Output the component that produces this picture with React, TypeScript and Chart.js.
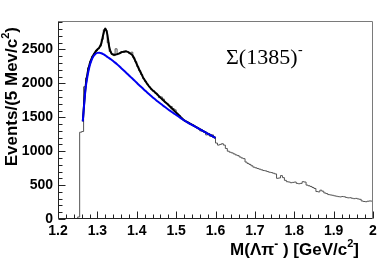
import React, { useEffect, useRef } from 'react';
import { Chart, registerables } from 'chart.js';

Chart.register(...registerables);

// Histogram: 5 MeV bins starting at 1.25 GeV
const histLow = 1.25;
const binWidth = 0.005;
const histCounts = [
  30, 1280, 1290, 1950, 2080, 2230, 2320, 2400, 2440, 2480,
  2510, 2550, 2650, 2790, 2780, 2600, 2470, 2430, 2410, 2510,
  2440, 2450, 2470, 2460, 2480, 2470, 2440, 2460, 2380, 2320,
  2250, 2190, 2130, 2070, 2030, 1990, 1950, 1910, 1890, 1860,
  1830, 1790, 1800, 1770, 1720, 1700, 1670, 1660, 1630, 1610,
  1560, 1530, 1500, 1470, 1450, 1435, 1420, 1400, 1385, 1365,
  1350, 1335, 1300, 1290, 1280, 1240, 1260, 1220, 1240, 1200,
  1120, 1090, 1100, 1110, 1090, 1040, 1000, 985, 975, 960,
  945, 935, 915, 900, 890, 840, 820, 805, 785, 765,
  755, 745, 735, 725, 715, 710, 700, 690, 685, 675,
  665, 600, 605, 640, 610, 570, 550, 545, 535, 540,
  545, 525, 520, 525, 550, 545, 500, 490, 480, 465,
  450, 405, 400, 425, 410, 385, 375, 360, 355, 350,
  342, 336, 330, 326, 332, 328, 318, 312, 314, 306,
  300, 304, 296, 290, 266, 258, 255, 262, 266, 264,
];

// Fit curves
const fitMass = [
  1.263, 1.265, 1.27, 1.275, 1.28, 1.285, 1.29, 1.295, 1.3, 1.305,
  1.31, 1.315, 1.32, 1.325, 1.33, 1.335, 1.34, 1.345, 1.35, 1.355,
  1.36, 1.365, 1.37, 1.375, 1.38, 1.385, 1.39, 1.395, 1.4, 1.405,
  1.41, 1.415, 1.42, 1.425, 1.43, 1.435, 1.44, 1.445, 1.45, 1.455,
  1.46, 1.465, 1.47, 1.475, 1.48, 1.485, 1.49, 1.495, 1.5, 1.505,
  1.51, 1.515, 1.52, 1.525, 1.53, 1.535, 1.54, 1.545, 1.55, 1.555,
  1.56, 1.565, 1.57, 1.575, 1.58, 1.585, 1.59, 1.595, 1.6,
];
const totalFit = [
  1440, 1600, 1950, 2150, 2280, 2360, 2420, 2465, 2500, 2530,
  2590, 2720, 2810, 2730, 2540, 2450, 2425, 2422, 2430, 2440,
  2455, 2465, 2472, 2468, 2455, 2435, 2405, 2350, 2285, 2220,
  2160, 2100, 2050, 2005, 1965, 1930, 1900, 1875, 1850, 1820,
  1790, 1762, 1735, 1710, 1685, 1655, 1625, 1597, 1570, 1540,
  1512, 1484, 1457, 1440, 1424, 1408, 1392, 1376, 1360, 1343,
  1326, 1310, 1293, 1277, 1260, 1244, 1228, 1212, 1196,
];
const bkgFit = [
  1440, 1590, 1920, 2110, 2250, 2340, 2400, 2435, 2450, 2452,
  2445, 2430, 2412, 2392, 2372, 2352, 2330, 2306, 2281, 2255,
  2228, 2201, 2174, 2147, 2120, 2092, 2065, 2037, 2009, 1981,
  1954, 1927, 1900, 1874, 1848, 1822, 1797, 1773, 1749, 1726,
  1703, 1680, 1658, 1636, 1615, 1595, 1575, 1555, 1535, 1515,
  1495, 1475, 1456, 1438, 1421, 1404, 1389, 1373, 1357, 1341,
  1325, 1309, 1292, 1276, 1260, 1244, 1228, 1212, 1196,
];

const xTickValues = [1.2, 1.3, 1.4, 1.5, 1.6, 1.7, 1.8, 1.9, 2.0];
const xTickLabels = ['1.2', '1.3', '1.4', '1.5', '1.6', '1.7', '1.8', '1.9', '2'];
const yTickValues = [0, 500, 1000, 1500, 2000, 2500];
const yTickLabels = ['0', '500', '1000', '1500', '2000', '2500'];

const SANS = '"Liberation Sans", Arial, Helvetica, sans-serif';
const SERIF = '"Liberation Serif", "Times New Roman", serif';

type Seg = { t: string; size: number; dy: number };

function drawRich(ctx: CanvasRenderingContext2D, segs: Seg[], x: number, y: number, weight: string, family: string) {
  let total = 0;
  for (const s of segs) {
    ctx.font = `${weight} ${s.size}px ${family}`;
    total += ctx.measureText(s.t).width;
  }
  let cx = x - total;
  for (const s of segs) {
    ctx.font = `${weight} ${s.size}px ${family}`;
    ctx.fillText(s.t, cx, y + s.dy);
    cx += ctx.measureText(s.t).width;
  }
}

const framePlugin = {
  id: 'rootFrame',
  afterDraw(chart: any) {
    const { ctx, chartArea: a, scales } = chart;
    const xs = scales.x;
    const ys = scales.y;
    ctx.save();
    const L = Math.round(a.left) + 0.5;
    const R = Math.round(a.right) - 0.5;
    const T = Math.round(a.top) + 0.5;
    const B = Math.round(a.bottom) - 0.5;
    ctx.lineWidth = 1;
    // top & right frame
    ctx.strokeStyle = '#7a7a7a';
    ctx.beginPath();
    ctx.moveTo(L, T);
    ctx.lineTo(R, T);
    ctx.lineTo(R, B);
    ctx.stroke();
    // axes
    ctx.strokeStyle = '#222';
    ctx.beginPath();
    ctx.moveTo(L, T);
    ctx.lineTo(L, B);
    ctx.lineTo(R, B);
    ctx.stroke();
    // x ticks
    ctx.beginPath();
    for (let k = 0; k <= 40; k++) {
      const v = 1.2 + k * 0.02;
      const px = Math.round(xs.getPixelForValue(v)) + 0.5;
      const len = k % 5 === 0 ? 7 : 4;
      ctx.moveTo(px, B);
      ctx.lineTo(px, B - len);
    }
    // y ticks
    for (let k = 0; k <= 29; k++) {
      const v = k * 100;
      const py = Math.round(ys.getPixelForValue(v)) + 0.5;
      const len = k % 5 === 0 ? 7 : 4;
      ctx.moveTo(L, py);
      ctx.lineTo(L + len, py);
    }
    ctx.stroke();

    ctx.fillStyle = '#000';
    ctx.textBaseline = 'alphabetic';
    ctx.textAlign = 'left';
    // x title
    drawRich(ctx, [
      { t: 'M(Λπ', size: 17, dy: 0 },
      { t: '-', size: 12, dy: -7 },
      { t: ' ) [GeV/c', size: 17, dy: 0 },
      { t: '2', size: 11, dy: -8 },
      { t: ']', size: 17, dy: 0 },
    ], 359, 255, 'bold', SANS);
    // y title
    ctx.save();
    ctx.translate(17, 27);
    ctx.rotate(-Math.PI / 2);
    drawRich(ctx, [
      { t: 'Events/(5 Mev/c', size: 17, dy: 0 },
      { t: '2', size: 11, dy: -8 },
      { t: ')', size: 17, dy: 0 },
    ], 0, 0, 'bold', SANS);
    ctx.restore();
    // label
    ctx.font = `22px ${SERIF}`;
    const main = 'Σ(1385)';
    ctx.fillText(main, 226, 64);
    const w = ctx.measureText(main).width;
    ctx.font = `14px ${SERIF}`;
    ctx.fillText('-', 226 + w + 0.5, 54);
    ctx.restore();
  },
};

export default function App() {
  const ref = useRef<HTMLCanvasElement | null>(null);
  useEffect(() => {
    if (!ref.current) return;
    const histPoints = histCounts.map((c, i) => ({ x: histLow + i * binWidth, y: c }));
    histPoints.unshift({ x: histLow, y: 0 });
    histPoints.push({ x: histLow + histCounts.length * binWidth, y: histCounts[histCounts.length - 1] });
    const chart = new Chart(ref.current, {
      type: 'line',
      data: {
        datasets: [
          {
            data: fitMass.map((m, i) => ({ x: m, y: bkgFit[i] })),
            borderColor: 'rgb(0,0,240)',
            borderWidth: 2,
            pointRadius: 0,
            cubicInterpolationMode: 'monotone',
            fill: false,
            order: 1,
          },
          {
            data: fitMass.map((m, i) => ({ x: m, y: totalFit[i] })),
            borderColor: '#000',
            borderWidth: 2,
            pointRadius: 0,
            cubicInterpolationMode: 'monotone',
            fill: false,
            order: 2,
          },
          {
            data: histPoints,
            borderColor: '#555',
            borderWidth: 1,
            pointRadius: 0,
            stepped: true,
            fill: false,
            order: 3,
          },
        ],
      },
      options: {
        animation: false,
        responsive: true,
        maintainAspectRatio: false,
        layout: { padding: { top: 21, right: 17, left: 0, bottom: 0 } },
        plugins: { legend: { display: false }, tooltip: { enabled: false } },
        scales: {
          x: {
            type: 'linear',
            min: 1.2,
            max: 2.0,
            grid: { display: false, drawTicks: false },
            border: { display: false },
            afterBuildTicks: (s: any) => {
              s.ticks = xTickValues.map((v) => ({ value: v }));
            },
            afterFit: (s: any) => {
              s.height = 46;
            },
            ticks: {
              autoSkip: false,
              maxRotation: 0,
              padding: 4,
              color: '#000',
              font: { family: SANS, size: 14, weight: 'bold' },
              callback: (_v: any, i: number) => xTickLabels[i],
            },
          },
          y: {
            type: 'linear',
            min: 0,
            max: 2920,
            grid: { display: false, drawTicks: false },
            border: { display: false },
            afterBuildTicks: (s: any) => {
              s.ticks = yTickValues.map((v) => ({ value: v }));
            },
            afterFit: (s: any) => {
              s.width = 58;
            },
            ticks: {
              autoSkip: false,
              padding: 5,
              color: '#000',
              font: { family: SANS, size: 14, weight: 'bold' },
              callback: (_v: any, i: number) => yTickLabels[i],
            },
          },
        },
      },
      plugins: [framePlugin],
    } as any);
    return () => chart.destroy();
  }, []);
  return (
    <div style={{ position: 'absolute', left: 0, top: 0, width: 390, height: 265, background: '#fff' }}>
      <canvas ref={ref} />
    </div>
  );
}
